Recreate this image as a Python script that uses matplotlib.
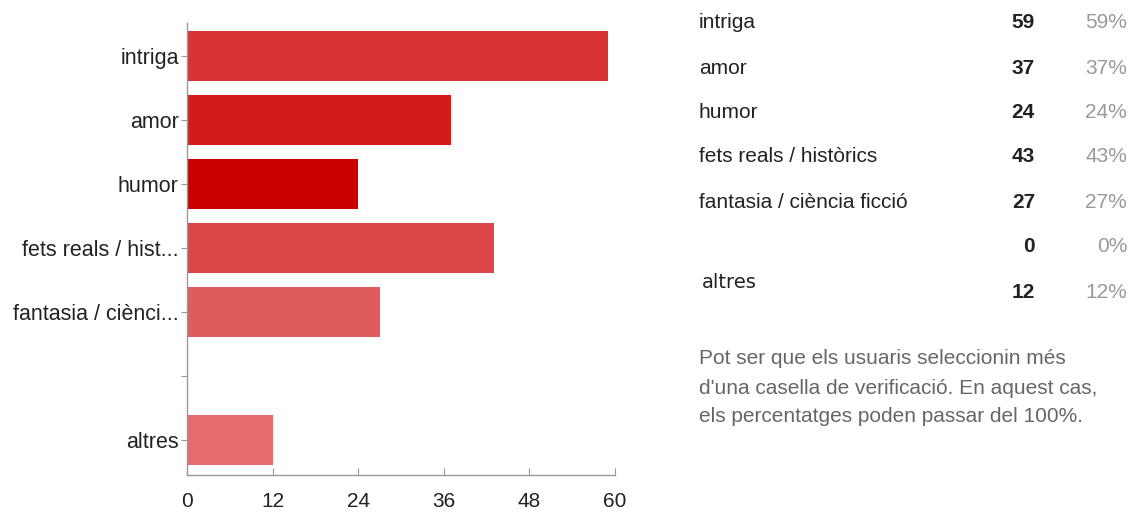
import matplotlib
matplotlib.use('Agg')
import matplotlib.pyplot as plt

# dades
categories = ['intriga', 'amor', 'humor', 'fets reals / hist...',
              'fantasia / ciènci...', '', 'altres']
values = [59, 37, 24, 43, 27, 0, 12]
bar_colors = ['#da3333', '#d41b1b', '#cc0000', '#dc4646',
              '#e05b5b', '#e26464', '#e46c6c']
xticks = [0, 12, 24, 36, 48, 60]

table_labels = ['intriga', 'amor', 'humor', 'fets reals / històrics',
                'fantasia / ciència ficció', '', 'altres']
table_counts = [59, 37, 24, 43, 27, 0, 12]
table_pcts = ['59%', '37%', '24%', '43%', '27%', '0%', '12%']

note = ["Pot ser que els usuaris seleccionin més",
        "d'una casella de verificació. En aquest cas,",
        "els percentatges poden passar del 100%."]

plain = ['Liberation Sans', 'DejaVu Sans']

W, H = 1131, 512
fig = plt.figure(figsize=(W / 100, H / 100), dpi=100)

# grafic de barres
ax = fig.add_axes([187 / W, 1 - 475 / H, (615 - 187) / W, (475 - 23) / H])
ypos = list(range(len(categories)))
ax.barh(ypos, values, height=0.78, color=bar_colors)
ax.set_xlim(0, 60)
ax.set_ylim(6.55, -0.52)
ax.set_yticks(ypos)
ax.set_yticklabels(categories, family=plain, fontsize=15.5, color='#222222')
ax.set_xticks(xticks)
ax.set_xticklabels([str(t) for t in xticks], family=plain, fontsize=15,
                   color='#222222')
for s in ['top', 'right']:
    ax.spines[s].set_visible(False)
for s in ['left', 'bottom']:
    ax.spines[s].set_color('#999999')
    ax.spines[s].set_linewidth(1)
ax.tick_params(axis='y', direction='out', length=4, color='#999999', pad=2)
ax.tick_params(axis='x', direction='in', length=5, color='#999999', pad=12)

# taula de resultats
fs = 15
row_y = [23, 68, 113, 157, 202, 247]
for i in range(6):
    y = 1 - row_y[i] / H
    fig.text(699 / W, y, table_labels[i], family=plain, fontsize=fs,
             color='#222222', va='center', ha='left')
    fig.text(1035 / W, y, str(table_counts[i]), family=plain, fontsize=fs,
             fontweight='bold', color='#222222', va='center', ha='right')
    fig.text(1127 / W, y, table_pcts[i], family=plain, fontsize=fs,
             color='#999999', va='center', ha='right')
fig.text(702 / W, 1 - 282 / H, table_labels[6], family=['DejaVu Sans'],
         fontsize=14, color='#222222', va='center', ha='left')
fig.text(1035 / W, 1 - 292 / H, str(table_counts[6]), family=plain,
         fontsize=fs, fontweight='bold', color='#222222', va='center',
         ha='right')
fig.text(1127 / W, 1 - 292 / H, table_pcts[6], family=plain, fontsize=fs,
         color='#999999', va='center', ha='right')

# nota al peu
for i, line in enumerate(note):
    fig.text(699 / W, 1 - (359 + 29 * i) / H, line, family=plain,
             fontsize=fs, color='#666666', va='center', ha='left')

fig.savefig('out.png', dpi=100)
plt.close(fig)
